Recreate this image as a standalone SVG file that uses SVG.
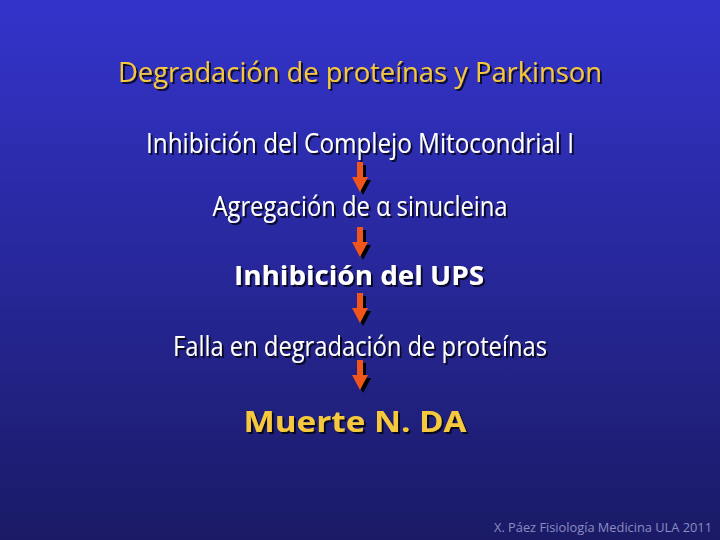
<svg xmlns="http://www.w3.org/2000/svg" width="720" height="540" viewBox="0 0 720 540">
<defs>
<linearGradient id="bg" x1="0" y1="0" x2="0" y2="1">
<stop offset="0" stop-color="#3434cc"/>
<stop offset="0.5" stop-color="#27279a"/>
<stop offset="1" stop-color="#1a1a66"/>
</linearGradient>
<filter id="sh" x="-5%" y="-20%" width="110%" height="150%">
<feDropShadow dx="2" dy="2" stdDeviation="0.6" flood-color="#000" flood-opacity="0.75"/>
</filter>
<polygon id="arr" points="-3,0 3,0 3,15 8,15 0,30 -8,15 -3,15"/>
</defs>
<style>
text{font-family:"Open Sans","Liberation Sans",sans-serif;text-anchor:middle}
.w{fill:#ffffff;font-size:27px;filter:url(#sh)}
.y{fill:#f6c83c;font-size:28px;filter:url(#sh)}
.b{font-weight:bold}
.f{fill:#8c8cc0;font-size:12.5px;text-anchor:start}
.ash{fill:#000}
.afg{fill:#f0561c}
</style>
<rect width="720" height="540" fill="url(#bg)"/>
<g id="title"><text class="y" x="360" y="82" textLength="484" lengthAdjust="spacingAndGlyphs">Degradación de proteínas y Parkinson</text></g>
<g id="n1"><text class="w" x="360" y="153" textLength="428" lengthAdjust="spacingAndGlyphs">Inhibición del Complejo Mitocondrial I</text></g>
<g id="n2"><text class="w" x="360" y="216" textLength="295" lengthAdjust="spacingAndGlyphs">Agregación de α sinucleina</text></g>
<g id="n3"><text class="w b" x="359" y="285" font-size="26" textLength="250" lengthAdjust="spacingAndGlyphs">Inhibición del UPS</text></g>
<g id="n4"><text class="w" x="360" y="356" textLength="374" lengthAdjust="spacingAndGlyphs">Falla en degradación de proteínas</text></g>
<g id="n5"><text class="y b" x="355" y="432" font-size="29" textLength="223" lengthAdjust="spacingAndGlyphs">Muerte N. DA</text></g>
<g id="connectors">
<use href="#arr" class="ash" x="363" y="165"/><use href="#arr" class="afg" x="360" y="162"/>
<use href="#arr" class="ash" x="363" y="230"/><use href="#arr" class="afg" x="360" y="227"/>
<use href="#arr" class="ash" x="363" y="296"/><use href="#arr" class="afg" x="360" y="293"/>
<use href="#arr" class="ash" x="363" y="363"/><use href="#arr" class="afg" x="360" y="360"/>
</g>
<g id="footer"><text class="f" x="494" y="532" textLength="218" lengthAdjust="spacingAndGlyphs">X. Páez Fisiología Medicina ULA 2011</text></g>
</svg>
